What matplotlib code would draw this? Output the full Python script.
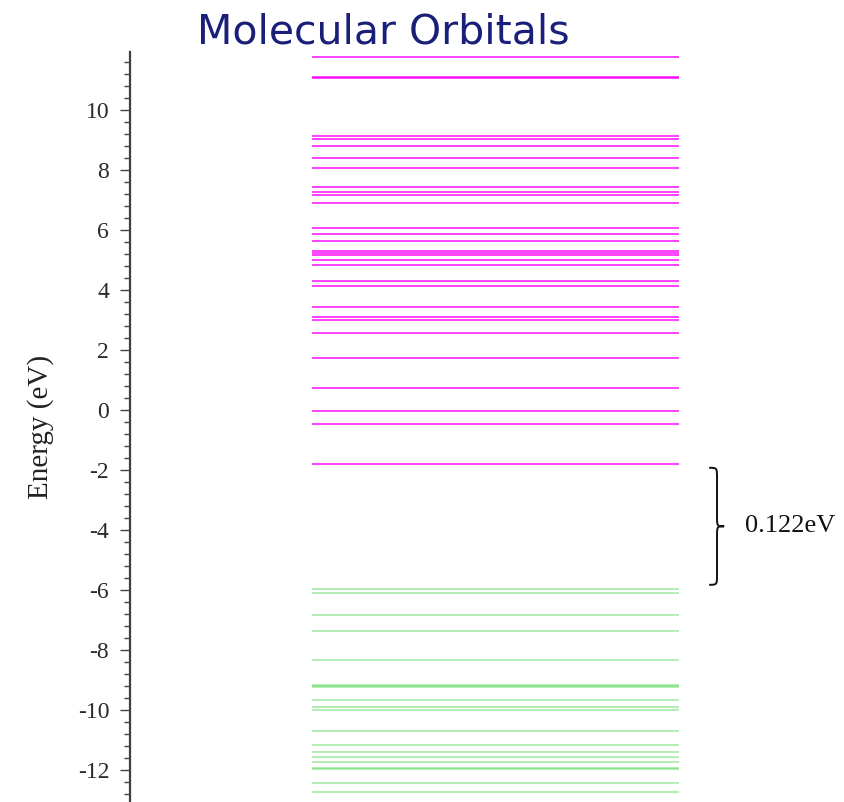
import matplotlib
matplotlib.use("Agg")
import matplotlib.pyplot as plt
from matplotlib.path import Path
from matplotlib.patches import PathPatch
from matplotlib.transforms import blended_transform_factory
from matplotlib.ticker import MultipleLocator

plt.rcParams["axes.unicode_minus"] = False

# Orbital energies (eV)
unoccupied = [11.76, 11.11, 11.07, 9.14, 9.04, 8.80, 8.41, 8.06, 7.43, 7.26, 7.16,
              6.90, 6.06, 5.87, 5.63, 5.31, 5.22, 5.15, 5.00, 4.82, 4.31, 4.13,
              3.44, 3.11, 3.00, 2.58, 1.72, 0.72, -0.03, -0.48, -1.81]
occupied = [-5.98, -6.09, -6.83, -7.37, -8.33, -9.17, -9.21, -9.24, -9.67, -9.89,
            -10.01, -10.71, -11.16, -11.40, -11.58, -11.74, -11.94, -11.98,
            -12.42, -12.72]
gap_label = "0.122eV"
y_ticks = [10, 8, 6, 4, 2, 0, -2, -4, -6, -8, -10, -12]

W, H = 845, 802
fig = plt.figure(figsize=(W / 100, H / 100), dpi=100)
ax_left, ax_top = 130, 52
ax = fig.add_axes([ax_left / W, 0, 1 - ax_left / W, (H - ax_top) / H])
ax.set_xlim(0, 1)
ax.set_ylim(-13.07, 11.93)

x0, x1 = 0.2545, 0.768
ax.hlines(unoccupied, x0, x1, colors="#ff00ff", lw=1.3, alpha=0.8)
ax.hlines(occupied, x0, x1, colors="#5fd85f", lw=1.3, alpha=0.5)

for s in ("top", "right", "bottom"):
    ax.spines[s].set_visible(False)
ax.spines["left"].set_color("#404040")
ax.spines["left"].set_linewidth(1.6)
ax.set_xticks([])
ax.set_yticks(y_ticks)
ax.yaxis.set_minor_locator(MultipleLocator(0.4))
ax.tick_params(axis="y", which="major", length=7, width=1.0, color="#404040",
               pad=8, labelsize=17, labelcolor="#2a2a2a")
ax.tick_params(axis="y", which="minor", length=4, width=1.0, color="#404040")
for lab in ax.get_yticklabels():
    lab.set_fontfamily("Liberation Serif")
ax.set_ylabel("Energy (eV)", family="Liberation Serif", fontsize=21,
              color="#222222", labelpad=17)

# Brace spanning the HOMO-LUMO gap
trans = blended_transform_factory(ax.transAxes, ax.transData)
lumo = min(unoccupied)
homo = max(occupied)
top, bot = lumo - 0.12, homo + 0.15
mid = (top + bot) / 2
bx0, bx, bxt = 0.810, 0.821, 0.831
r = 0.35
verts = [
    (bx0, top), (bx, top), (bx, top), (bx, top - r),
    (bx, mid + r),
    (bx, mid), (bx, mid), (bxt, mid),
    (bx, mid), (bx, mid), (bx, mid - r),
    (bx, bot + r),
    (bx, bot), (bx, bot), (bx0, bot),
]
codes = [Path.MOVETO, Path.CURVE4, Path.CURVE4, Path.CURVE4,
         Path.LINETO,
         Path.CURVE4, Path.CURVE4, Path.CURVE4,
         Path.CURVE4, Path.CURVE4, Path.CURVE4,
         Path.LINETO,
         Path.CURVE4, Path.CURVE4, Path.CURVE4]
ax.add_patch(PathPatch(Path(verts, codes), transform=trans, fill=False,
                       lw=1.4, edgecolor="#111111", clip_on=False))
ax.text(0.860, mid, gap_label, transform=trans, family="Liberation Serif",
        fontsize=19, color="#111111", va="center", ha="left")

fig.text(383 / W, 1 - 33 / H, "Molecular Orbitals", family="DejaVu Sans",
         fontsize=29.5, color="#1a1f7a", ha="center", va="center")

fig.savefig("out.png", dpi=100)
